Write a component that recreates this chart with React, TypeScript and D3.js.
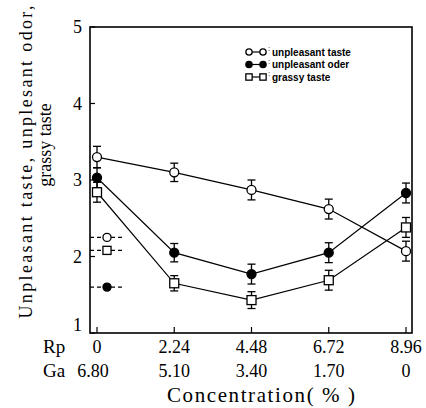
import React from "react";
import * as d3 from "d3";

const rpTicks = ["0", "2.24", "4.48", "6.72", "8.96"];
const gaTicks = ["6.80", "5.10", "3.40", "1.70", "0"];
const xValues = [0, 2.24, 4.48, 6.72, 8.96];
const yTicks = [1, 2, 3, 4, 5];

const tasteValues = [3.3, 3.1, 2.87, 2.62, 2.07];
const odorValues = [3.03, 2.05, 1.77, 2.05, 2.83];
const grassyValues = [2.84, 1.65, 1.43, 1.69, 2.38];
const tasteErr = [0.14, 0.12, 0.13, 0.13, 0.13];
const odorErr = [0.13, 0.12, 0.13, 0.13, 0.13];
const grassyErr = [0.13, 0.1, 0.11, 0.13, 0.13];

const refValues = [2.25, 1.6, 2.08]; // taste, odor, grassy references (dashed)

type Kind = "open" | "filled" | "square";

const Marker = ({ x, y, kind, s = 1 }: { x: number; y: number; kind: Kind; s?: number }) => {
  if (kind === "square")
    return <rect x={x - 4.5 * s} y={y - 4.5 * s} width={9 * s} height={9 * s} fill="#fff" stroke="#000" strokeWidth={1.3} />;
  return <circle cx={x} cy={y} r={4.5 * s} fill={kind === "filled" ? "#000" : "#fff"} stroke="#000" strokeWidth={1.3} />;
};

export default function App() {
  const left = 90, right = 412, top = 27, bottom = 333;
  const x = d3.scaleLinear().domain([0, 8.96]).range([97, 406]);
  const y = d3.scaleLinear().domain([1, 5]).range([bottom, top]);
  const line = d3.line<number>().x((_, i) => x(xValues[i])).y((d) => y(d));

  const series: { vals: number[]; err: number[]; kind: Kind }[] = [
    { vals: tasteValues, err: tasteErr, kind: "open" },
    { vals: odorValues, err: odorErr, kind: "filled" },
    { vals: grassyValues, err: grassyErr, kind: "square" },
  ];
  const serif = "Liberation Serif, DejaVu Serif, serif";
  const sans = "Liberation Sans, Arial, sans-serif";
  const refKinds: Kind[] = ["open", "filled", "square"];

  return (
    <svg width={426} height={408} style={{ position: "absolute", left: 0, top: 0, background: "#fff" }}>
      {/* frame */}
      <rect x={left} y={top} width={right - left} height={bottom - top} fill="none" stroke="#000" strokeWidth={1.6} />
      {/* y ticks */}
      {yTicks.map((t) => (
        <g key={t}>
          <line x1={left} x2={left + 5} y1={y(t)} y2={y(t)} stroke="#000" strokeWidth={1.2} />
          <text x={left - 8} y={y(t) + (t === 1 ? -2 : 6)} textAnchor="end" style={{ fontFamily: serif }} fontSize={18}>
            {t}
          </text>
        </g>
      ))}
      {/* x ticks */}
      {xValues.map((v) => (
        <line key={v} x1={x(v)} x2={x(v)} y1={bottom} y2={bottom - 6} stroke="#000" strokeWidth={1.2} />
      ))}
      {/* reference dashed markers */}
      {refValues.map((v, i) => (
        <g key={i}>
          <line x1={left} x2={125} y1={y(v)} y2={y(v)} stroke="#000" strokeWidth={1.1} strokeDasharray="4,3" />
          <Marker x={107} y={y(v)} kind={refKinds[i]} s={0.9} />
        </g>
      ))}
      {/* series lines */}
      {series.map((s, si) => (
        <path key={si} d={line(s.vals) || ""} fill="none" stroke="#000" strokeWidth={1.2} />
      ))}
      {/* error bars and markers */}
      {series.map((s, si) =>
        s.vals.map((v, i) => {
          const cx = x(xValues[i]);
          const y1 = y(v + s.err[i]);
          const y2 = y(v - s.err[i]);
          return (
            <g key={`${si}-${i}`}>
              <line x1={cx} x2={cx} y1={y1} y2={y2} stroke="#000" strokeWidth={1.3} />
              <line x1={cx - 4} x2={cx + 4} y1={y1} y2={y1} stroke="#000" strokeWidth={1.3} />
              <line x1={cx - 4} x2={cx + 4} y1={y2} y2={y2} stroke="#000" strokeWidth={1.3} />
              <Marker x={cx} y={y(v)} kind={s.kind} />
            </g>
          );
        })
      )}
      {/* legend */}
      {[
        { kind: "open" as Kind, label: "unpleasant taste" },
        { kind: "filled" as Kind, label: "unpleasant oder" },
        { kind: "square" as Kind, label: "grassy taste" },
      ].map((l, i) => {
        const ly = 52 + i * 12.5;
        return (
          <g key={i}>
            <line x1={249} x2={263} y1={ly} y2={ly} stroke="#000" strokeWidth={1.2} />
            <Marker x={249} y={ly} kind={l.kind} s={0.7} />
            <Marker x={263} y={ly} kind={l.kind} s={0.7} />
            <text x={268} y={ly - 1} style={{ fontFamily: sans }} fontSize={8}>:</text>
            <text x={272} y={ly + 3.5} style={{ fontFamily: sans }} fontSize={10} fontWeight="bold">
              {l.label}
            </text>
          </g>
        );
      })}
      {/* x tick labels */}
      <text x={43} y={353} style={{ fontFamily: serif }} fontSize={19}>Rp</text>
      <text x={43} y={377} style={{ fontFamily: serif }} fontSize={19}>Ga</text>
      {rpTicks.map((t, i) => (
        <text key={t} x={x(xValues[i])} y={353} textAnchor="middle" style={{ fontFamily: serif }} fontSize={18}>
          {t}
        </text>
      ))}
      {gaTicks.map((t, i) => (
        <text key={t + i} x={i === 0 ? x(xValues[i]) - 4 : x(xValues[i])} y={377} textAnchor="middle" style={{ fontFamily: serif }} fontSize={18}>
          {t}
        </text>
      ))}
      <text x={261} y={402} textAnchor="middle" style={{ fontFamily: serif }} fontSize={21} textLength={188} lengthAdjust="spacing">
        Concentration( % )
      </text>
      {/* y axis label */}
      <text transform="translate(32,162) rotate(-90)" textAnchor="middle" style={{ fontFamily: serif }} fontSize={18} textLength={313} lengthAdjust="spacing">
        Unpleasant taste, unplesant odor,
      </text>
      <text transform="translate(51,145) rotate(-90)" textAnchor="middle" style={{ fontFamily: serif }} fontSize={18}>
        grassy taste
      </text>
    </svg>
  );
}
